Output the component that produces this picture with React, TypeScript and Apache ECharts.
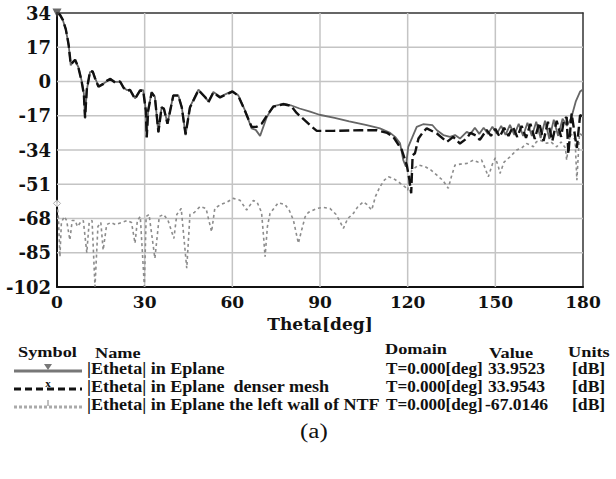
import React, { useEffect, useRef } from "react";
import * as echarts from "echarts";

const xTicks = { min: 0, max: 180, interval: 30 };
const yTicks = { min: -102, max: 34, interval: 17 };

const etheta: number[][] = [
  [0, 34], [1, 33], [2, 30.4], [3, 26], [3.6, 21], [4, 18], [4.7, 8], [5.4, 9.7], [6.2, 10.5], [7.3, 7.2],
  [8.4, 0.6], [9.2, -6], [9.6, -18.4], [10.2, -4.3], [11.3, 4.7], [12.2, 5.2], [13.1, 1.5], [14.2, -2.3],
  [15.9, -1], [17, 0], [18.2, 1.5], [19.9, -0.2], [21.6, -0.2], [22.8, -3], [23.9, -4.3], [25, -4],
  [26.7, -8.4], [28.4, -4.3], [29.5, -4.3], [30.4, -14.2], [30.7, -27.5], [31.2, -14.2], [32.4, -5.2],
  [33.5, -7.6], [34.7, -25.5], [35.8, -12.6], [36.6, -13.4], [37.8, -20.8], [39.8, -6.8], [41.5, -6.8],
  [42.7, -12.6], [44, -26.6], [45.5, -12.6], [48.4, -4], [50.7, -7.6], [51.8, -10.1], [53.5, -5.2],
  [55.8, -7.6], [58.1, -6], [60, -4.8], [62, -6.8], [64.3, -14.2], [66.6, -23.3], [68, -24], [69.5, -27],
  [71.8, -17.6], [74, -12.3], [77.5, -11], [80, -11.8], [83, -13.4], [86.6, -15], [89.8, -16.5], [95, -18],
  [100, -19.8], [106, -21.7], [110.5, -23.3], [114, -25.5], [115.7, -27.5], [117.4, -30.7], [118.5, -39],
  [119.4, -42.3], [120.2, -32.4], [121.5, -28], [123.1, -22.5], [125.3, -21.2], [128.5, -21.7], [130, -24.2],
  [132.2, -26.6], [134.5, -27.5], [136.2, -26.6], [137.9, -28.3], [140.2, -25], [141.5, -26], [143, -23],
  [144.5, -26], [146, -23], [147.5, -26], [149, -22.5], [150.5, -26], [152, -22], [153.5, -26.5], [155, -21.5],
  [156.5, -26.5], [158, -21], [159.5, -27], [161, -20.5], [162.5, -27], [164, -20], [165.5, -28], [167, -19.5],
  [168.5, -28.5], [170, -19], [171.5, -27], [173, -18.5], [174.5, -22], [176, -18], [177.5, -10], [179, -5], [180, -4],
];

const ethetaDense: number[][] = [
  [0, 34], [1, 33.2], [2, 30.6], [3, 26], [3.6, 21.5], [4, 18], [4.7, 8.5], [5.4, 9.5], [6.2, 10.8], [7.3, 7],
  [8.4, 0.3], [9.2, -6.5], [9.6, -18], [10.2, -4], [11.3, 5], [12.2, 5], [13.1, 1.2], [14.2, -2.6],
  [15.9, -1.2], [17, 0.3], [18.2, 1.2], [19.9, -0.5], [21.6, 0], [22.8, -3.2], [23.9, -4.6], [25, -4.2],
  [26.7, -8.6], [28.4, -4.5], [29.5, -4.6], [30.4, -14.6], [30.7, -27.8], [31.2, -14.5], [32.4, -5.5],
  [33.5, -7.8], [34.7, -25], [35.8, -12.9], [36.6, -13.6], [37.8, -21], [39.8, -7], [41.5, -7],
  [42.7, -12.9], [44, -26.2], [45.5, -12.9], [48.4, -4.3], [50.7, -7.8], [51.8, -10.3], [53.5, -5.5],
  [55.8, -7.9], [58.1, -6.3], [60, -5], [62, -7], [64.3, -14.5], [66.6, -22.5], [68.3, -22.5],
  [70, -21], [71.8, -17], [74, -12.5], [77.5, -11.3], [80, -12], [82, -15.6], [86.6, -21.7], [88.9, -24.5],
  [94.6, -24.5], [103.7, -24.2], [109.4, -24.2], [113, -25.5], [115.1, -27.5], [118, -34], [119.7, -41.5],
  [120.5, -48], [121.2, -55.5], [121.7, -36.6], [122.5, -35.6], [123.7, -28.3], [125.3, -25], [126.5, -23.3],
  [130, -25.8], [133.4, -30], [135.6, -27.5], [137.9, -30.8], [140.2, -28.3], [141.5, -25.5], [143.6, -27],
  [144.7, -29], [147, -24], [148.5, -27], [150, -23.5], [151.5, -27.5], [153, -23], [154.5, -27], [156, -22.5],
  [157.5, -27.5], [159, -22], [160.5, -28], [162, -21], [163.5, -28.5], [165, -20.5], [166.5, -29.5], [168, -20],
  [169.5, -29.5], [171, -19.5], [172.5, -27.5], [173.5, -19], [174.4, -17.6], [175, -36], [176.1, -15.9],
  [177.9, -33], [179, -16.7], [180, -17.5],
];

const ethetaLeftWall: number[][] = [
  [0, -60.5], [0.5, -68], [1, -87], [1.5, -70], [2.5, -67], [3.3, -69], [4.4, -78.7], [5.2, -69], [6.2, -69],
  [7, -72], [8, -70], [9, -69], [10.2, -85], [11, -70], [12, -69], [13, -101.8], [14, -72], [15, -70],
  [15.8, -83.7], [17, -71], [18.5, -70], [20, -71], [22, -70], [24, -69], [25.5, -70], [26.7, -80.3],
  [27.5, -69], [28.5, -67], [29.9, -101.8], [30.5, -67], [31.5, -66], [33.5, -87.8], [35, -67], [36.5, -66],
  [38, -69], [40, -77.9], [41, -66], [42.5, -63], [44.4, -92.7], [45.5, -66], [47, -65], [49, -62], [51, -63],
  [52.9, -74.6], [54, -63], [56, -61], [58, -60], [60.3, -58], [62.6, -58.9], [64.9, -63.8], [67.2, -59],
  [68.5, -60], [70, -65], [70.6, -75.4], [71.2, -87], [72, -72], [72.9, -65.5], [75.7, -60.2], [78, -61],
  [79.5, -64], [80.9, -68.8], [82.6, -80.3], [83.5, -75], [84.9, -67.2], [86, -65], [88.9, -63], [91, -62.5],
  [93.4, -63], [95.5, -66], [97, -70], [98, -72.9], [99.5, -68], [101.4, -65.5], [103, -62], [104.9, -59.7],
  [106, -61], [107.7, -63.8], [109, -57], [110.5, -52.3], [112, -49], [113.4, -47.3], [115, -48], [116.8, -49.8],
  [119.1, -52.3], [120, -54], [121.4, -44], [123.7, -41.5], [126, -42.3], [128, -44], [130, -46.5], [132, -49],
  [133.9, -53], [135, -47], [136.2, -41.5], [138, -41], [140.2, -40.7], [142.5, -39], [144, -40], [145.3, -39],
  [146.5, -43], [147.6, -47.3], [149, -41], [150, -37.9], [151, -42], [151.6, -45.6], [153, -40], [155, -37.4],
  [157.3, -34], [159, -33], [160.7, -30.8], [162, -31.5], [163, -32.4], [164, -30], [165.3, -29.1],
  [167.6, -30.7], [169, -30], [171, -32.4], [172.5, -30], [174, -33], [174.4, -39], [175.6, -25.8],
  [176.5, -27], [177.3, -29.1], [177.9, -49], [178.8, -25.8], [180, -27],
];

const legendHeaders = ["Symbol", "Name", "Domain", "Value", "Units"];
const legendNames = [
  "|Etheta| in Eplane",
  "|Etheta| in Eplane  denser mesh",
  "|Etheta| in Eplane the left wall of NTF",
];
const legendDomains = ["T=0.000[deg]", "T=0.000[deg]", "T=0.000[deg]"];
const legendValues = ["33.9523", "33.9543", "-67.0146"];
const legendUnits = ["[dB]", "[dB]", "[dB]"];

const FONT = "'Liberation Serif', 'Times New Roman', serif";
const AXFONT = "'DejaVu Serif', serif";
const GRIDCOLOR = "#c4c4c4";

export default function App() {
  const ref = useRef<HTMLDivElement>(null);
  useEffect(() => {
    if (!ref.current) return;
    const chart = echarts.init(ref.current, null, { renderer: "svg" });
    const txt = (text: string, x: number, y: number, size = 16, weight: any = "bold", sx = 1.12, align: any = "left") => ({
      type: "text",
      x,
      y,
      scaleX: sx,
      style: { text, fontFamily: FONT, fontSize: size, fontWeight: weight, fill: "#111", align, verticalAlign: "middle" },
    });
    const rowsY = [369, 387, 405];
    const hdrX = [18, 95, 385, 489, 568];
    const hdrY = [352, 353, 349, 353, 352];
    const graphics: any[] = [];
    legendHeaders.forEach((h, i) => graphics.push(txt(h, hdrX[i], hdrY[i], 15, "bold", 1.22)));
    legendNames.forEach((n, i) => {
      graphics.push(txt(n, 87, rowsY[i], 16, "bold", 1.13));
      graphics.push(txt(legendDomains[i], 386, rowsY[i], 16, "bold", 1.07));
      graphics.push(txt(legendValues[i], i === 2 ? 485 : 488, rowsY[i], 16, "bold", 1.1));
      graphics.push(txt(legendUnits[i], 572, rowsY[i], 16, "bold", 1.1));
    });
    graphics.push({ type: "line", shape: { x1: 14, y1: rowsY[0] + 2, x2: 82, y2: rowsY[0] + 2 }, style: { stroke: "#777", lineWidth: 3 } });
    graphics.push({ type: "polygon", shape: { points: [[44, rowsY[0] - 5], [52, rowsY[0] - 5], [48, rowsY[0] + 1]] }, style: { fill: "#777" } });
    graphics.push({ type: "line", shape: { x1: 14, y1: rowsY[1] + 2, x2: 82, y2: rowsY[1] + 2 }, style: { stroke: "#111", lineWidth: 3, lineDash: [7, 4] } });
    graphics.push(txt("x", 48, rowsY[1] - 4, 11, "bold", 1, "center"));
    graphics.push({ type: "line", shape: { x1: 14, y1: rowsY[2] + 2, x2: 82, y2: rowsY[2] + 2 }, style: { stroke: "#aaa", lineWidth: 3, lineDash: [3, 2] } });
    graphics.push({ type: "line", shape: { x1: 48, y1: rowsY[2] - 5, x2: 48, y2: rowsY[2] + 1 }, style: { stroke: "#aaa", lineWidth: 1.5 } });
    graphics.push(txt("(a)", 300, 431, 20, "normal", 1.25, "left"));

    // grid lines at the tick values, drawn as line series through the axes' scales
    const gridSeries: any[] = [];
    const gridLine = (data: number[][]) => ({
      type: "line",
      data,
      symbol: "none",
      silent: true,
      z: 1,
      lineStyle: { color: GRIDCOLOR, width: 1.5, type: "solid" },
    });
    for (let v = xTicks.min + xTicks.interval; v < xTicks.max; v += xTicks.interval)
      gridSeries.push(gridLine([[v, yTicks.min], [v, yTicks.max]]));
    for (let v = yTicks.min + yTicks.interval; v < yTicks.max; v += yTicks.interval)
      gridSeries.push(gridLine([[xTicks.min, v], [xTicks.max, v]]));

    const lbl = { fontFamily: AXFONT, fontSize: 17, fontWeight: "bold", color: "#111" };

    chart.setOption({
      animation: false,
      grid: { left: 57, right: 33, top: 13, bottom: 192 },
      xAxis: [
        {
          type: "value",
          min: xTicks.min,
          max: xTicks.max,
          interval: xTicks.interval,
          name: "Theta[deg]",
          nameLocation: "middle",
          nameGap: 28,
          nameMoveOverlap: false,
          nameTextStyle: { fontFamily: AXFONT, fontSize: 17, fontWeight: "bold", color: "#111" },
          axisLine: { show: true, onZero: false, lineStyle: { color: "#111", width: 2 } },
          axisTick: { show: false },
          axisLabel: { ...lbl, margin: 6 },
          splitLine: { show: false },
        },
        {
          type: "value",
          position: "top",
          min: xTicks.min,
          max: xTicks.max,
          interval: xTicks.interval,
          axisLine: { show: true, onZero: false, lineStyle: { color: "#333", width: 1.5 } },
          axisTick: { show: false },
          axisLabel: { show: false },
          splitLine: { show: false },
        },
      ],
      yAxis: [
        {
          type: "value",
          min: yTicks.min,
          max: yTicks.max,
          interval: yTicks.interval,
          axisLine: { show: true, onZero: false, lineStyle: { color: "#111", width: 2 } },
          axisTick: { show: false },
          axisLabel: { ...lbl, fontSize: 18, margin: 6 },
          splitLine: { show: false },
        },
        {
          type: "value",
          position: "right",
          min: yTicks.min,
          max: yTicks.max,
          interval: yTicks.interval,
          axisLine: { show: true, onZero: false, lineStyle: { color: "#333", width: 1.5 } },
          axisTick: { show: false },
          axisLabel: { show: false },
          splitLine: { show: false },
        },
      ],
      series: [
        ...gridSeries,
        {
          type: "line",
          data: ethetaLeftWall,
          symbol: "none",
          lineStyle: { color: "#8c8c8c", width: 1.6, type: [3, 3] },
          z: 2,
        },
        {
          type: "line",
          data: etheta,
          symbol: "none",
          lineStyle: { color: "#666", width: 1.8 },
          z: 3,
        },
        {
          type: "line",
          data: ethetaDense,
          symbol: "none",
          lineStyle: { color: "#111", width: 2.4, type: [10, 4] },
          z: 4,
        },
        {
          type: "scatter",
          data: [etheta[0]],
          symbol: "triangle",
          symbolRotate: 180,
          symbolSize: 9,
          itemStyle: { color: "#444" },
          z: 6,
        },
        {
          type: "scatter",
          data: [ethetaLeftWall[0]],
          symbol: "diamond",
          symbolSize: 7,
          itemStyle: { color: "#fff", borderColor: "#999", borderWidth: 1 },
          z: 6,
        },
      ],
      graphic: graphics,
    });
    return () => chart.dispose();
  }, []);
  return <div ref={ref} style={{ position: "absolute", left: 0, top: 0, width: 616, height: 479 }} />;
}
